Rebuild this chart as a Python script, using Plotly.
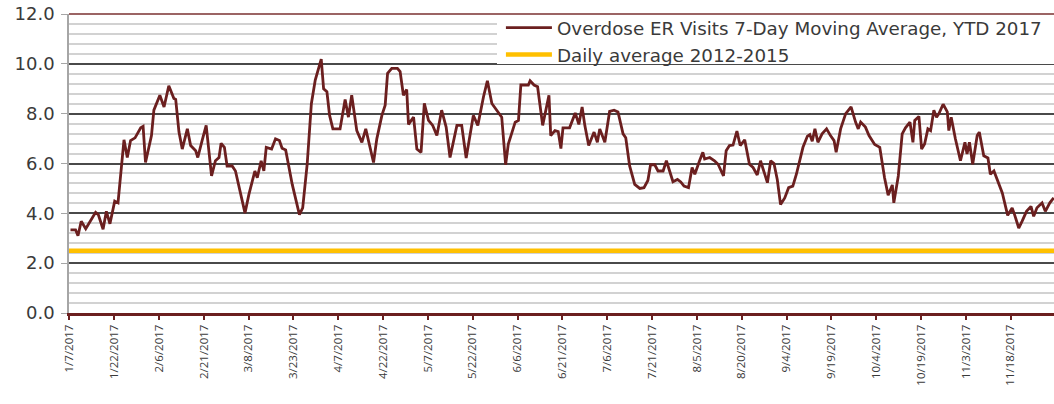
import pandas as pd
import plotly.graph_objects as go

# ---- data (days since 1/7/2017, 7-day moving average) ----
start_date = "2017-01-07"
day_offsets = [
    0.4, 2.1, 2.9, 4.0, 5.5, 7.1, 8.8, 9.7, 11.3, 12.4, 13.6, 15.2, 16.3, 18.3, 19.4, 20.5,
    22.0, 23.9, 24.7, 25.5, 27.5, 28.3, 30.3, 31.7, 33.3, 35.0, 35.6, 36.7, 37.8, 39.5, 40.6,
    42.3, 43.0, 44.5, 45.8, 47.6, 48.9, 50.1, 50.8, 51.9, 52.8, 54.5, 55.6, 58.8, 60.1, 62.1,
    62.9, 64.2, 65.1, 65.9, 67.7, 69.0, 70.3, 71.2, 72.4, 74.6, 77.0, 78.1, 79.6, 81.0, 82.3,
    84.3, 85.1, 86.2, 87.1, 88.2, 90.6, 92.3, 93.4, 94.5, 96.2, 97.9, 99.2, 101.8, 102.9,
    104.6, 105.7, 106.5, 107.9, 109.8, 110.7, 111.8, 112.9, 113.5, 115.2, 116.3, 117.7,
    118.8, 120.2, 121.6, 123.0, 124.6, 126.1, 127.4, 129.7, 131.3, 132.8, 135.2, 136.7,
    138.6, 139.9, 141.4, 143.6, 144.7, 146.0, 146.9, 149.2, 150.3, 151.1, 153.6, 154.2,
    155.5, 156.7, 158.4, 160.5, 161.1, 162.5, 163.6, 164.5, 165.2, 167.4, 169.3, 170.5,
    171.6, 172.5, 173.8, 175.6, 176.7, 177.5, 179.2, 180.8, 182.3, 183.6, 185.3, 186.2,
    187.5, 189.2, 190.9, 192.3, 193.6, 194.5, 195.9, 197.0, 198.7, 199.8, 202.0, 203.5,
    204.6, 205.7, 207.2, 208.4, 209.3, 210.9, 212.0, 212.6, 214.3, 215.9, 217.1, 218.9,
    219.8, 220.9, 222.1, 223.4, 224.5, 226.0, 227.6, 228.8, 230.2, 231.3, 232.4, 233.6,
    234.7, 235.8, 236.9, 238.0, 239.4, 240.7, 242.1, 243.3, 245.5, 247.0, 247.8, 248.6,
    249.5, 250.5, 251.9, 253.4, 254.7, 255.9, 256.6, 258.1, 259.8, 261.6, 263.1, 264.0,
    264.8, 266.4, 267.6, 269.5, 271.2, 272.8, 274.0, 275.4, 275.9, 277.4, 278.7, 279.8,
    281.3, 282.3, 282.9, 284.3, 285.2, 286.2, 287.3, 288.2, 289.3, 290.2, 291.0, 292.4,
    293.8, 294.3, 295.1, 296.5, 298.2, 299.7, 300.4, 301.2, 302.3, 303.8, 304.5, 306.0,
    307.4, 308.2, 309.4, 310.5, 312.2, 314.0, 315.5, 316.3, 317.7, 318.8, 320.3, 321.8,
    322.7, 323.8, 325.5, 326.6, 328.1, 329.4,
]
er_visits_7day = [
    3.34, 3.34, 3.10, 3.68, 3.38, 3.68, 4.04, 3.95, 3.36, 4.08, 3.58, 4.49, 4.42, 6.95, 6.24, 6.92,
    7.03, 7.43, 7.49, 6.04, 7.12, 8.14, 8.74, 8.27, 9.12, 8.61, 8.57, 7.26, 6.58, 7.39, 6.72,
    6.51, 6.24, 6.95, 7.53, 5.50, 6.11, 6.24, 6.81, 6.65, 5.90, 5.90, 5.70, 4.01, 4.76, 5.70,
    5.43, 6.11, 5.70, 6.65, 6.58, 6.99, 6.92, 6.61, 6.54, 5.16, 3.95, 4.22, 5.97, 8.40, 9.35,
    10.19, 9.00, 8.88, 7.93, 7.39, 7.39, 8.57, 7.86, 8.74, 7.32, 6.85, 7.39, 6.04, 6.99,
    7.93, 8.34, 9.62, 9.82, 9.82, 9.69, 8.74, 8.97, 7.57, 7.86, 6.58, 6.45,
    8.41, 7.73, 7.53, 7.12, 8.14, 7.46, 6.24, 7.53, 7.53, 6.22, 7.93, 7.53,
    8.68, 9.32, 8.41, 8.07, 7.86, 5.95, 6.78, 7.66, 7.73, 9.15, 9.15, 9.32,
    9.15, 9.08, 7.53, 8.74, 7.12, 7.32, 7.28, 6.60, 7.43, 7.43, 8.03, 7.57,
    8.27, 7.53, 6.72, 7.26, 6.85, 7.39, 6.85, 8.09, 8.14, 8.07, 7.19, 7.03,
    5.90, 5.16, 5.00, 5.03, 5.32, 5.95, 5.95, 5.70, 5.70, 6.11, 5.27, 5.36,
    5.26, 5.09, 5.03, 5.84, 5.57, 6.11, 6.45, 6.18, 6.24, 6.11, 5.97, 5.50,
    6.51, 6.72, 6.74, 7.30, 6.72, 6.95, 5.97, 5.84, 5.54, 6.11, 5.64, 5.23,
    6.11, 6.00, 5.36, 4.35, 4.62, 5.03, 5.09, 5.57, 6.65, 7.10, 7.16, 6.89,
    7.39, 6.85, 7.19, 7.39, 7.12, 6.92, 6.45, 7.39, 8.00, 8.27, 7.66, 7.39,
    7.66, 7.46, 7.12, 6.76, 6.65, 5.43, 4.73, 5.14, 4.42, 5.50, 7.19, 7.43,
    7.66, 6.85, 7.73, 7.89, 6.58, 6.78, 7.39, 7.32, 8.14, 7.86, 8.00, 8.38,
    8.07, 7.32, 7.86, 6.99, 6.11, 6.85, 6.38, 6.85, 5.97, 7.12, 7.26, 6.31,
    6.22, 5.57, 5.70, 5.36, 4.82, 3.92, 4.22, 3.95, 3.41, 3.68, 4.08, 4.28,
    3.88, 4.22, 4.42, 4.08, 4.42, 4.62,
]
baseline_daily_avg = 2.5          # Daily average 2012-2015
series_names = ["Overdose ER Visits 7-Day Moving Average, YTD 2017", "Daily average 2012-2015"]
y_ticks = [0, 2, 4, 6, 8, 10, 12]
x_window_days = [-0.1, 329.5]     # visible portion of the date axis

# ---- build figure ----
t0 = pd.Timestamp(start_date)
dates = t0 + pd.to_timedelta(day_offsets, unit="D")
x_lo = t0 + pd.to_timedelta(x_window_days[0], unit="D")
x_hi = t0 + pd.to_timedelta(x_window_days[1], unit="D")

DARK_RED = "#6b1f1f"
GOLD = "#ffc000"
WIDE_FONT = "DejaVu Sans"
TICK_FONT = "Open Sans"
TXT = "#3a3a3a"

fig = go.Figure()
fig.add_trace(go.Scatter(
    x=dates, y=er_visits_7day, mode="lines", name=series_names[0],
    line=dict(color=DARK_RED, width=2.8),
))
fig.add_trace(go.Scatter(
    x=[x_lo, x_hi], y=[baseline_daily_avg, baseline_daily_avg], mode="lines",
    name=series_names[1], line=dict(color=GOLD, width=4.5),
))

# white legend box (hides gridlines behind the legend) and thin top frame line
fig.add_shape(type="rect", xref="paper", yref="paper", x0=0.4345, x1=1.0, y0=0.8328, y1=1.0,
              fillcolor="white", line=dict(width=0), layer="above")
fig.add_shape(type="line", xref="paper", yref="paper", x0=0, x1=1, y0=1, y1=1,
              line=dict(color="#7a3030", width=1.5), layer="above")

fig.update_layout(
    width=1054, height=404,
    margin=dict(l=69, r=0, t=14, b=91, autoexpand=False),
    paper_bgcolor="white", plot_bgcolor="white",
    font=dict(family=WIDE_FONT, color=TXT),
    showlegend=True,
    legend=dict(
        x=0.4385, xanchor="left", y=1.016, yanchor="top",
        bgcolor="rgba(0,0,0,0)", bordercolor="rgba(0,0,0,0)", borderwidth=0,
        font=dict(family=WIDE_FONT, size=18.3, color=TXT),
        tracegroupgap=0, itemwidth=46,
    ),
    xaxis=dict(
        type="date", range=[x_lo, x_hi],
        tick0=start_date, dtick=15 * 86400000,
        tickformat="%-m/%-d/%Y", tickangle=-90,
        tickfont=dict(family=TICK_FONT, size=11.5, color=TXT),
        showgrid=False, zeroline=False,
        showline=True, linecolor=DARK_RED, linewidth=3,
        ticks="outside", ticklen=4, tickwidth=2, tickcolor=DARK_RED,
    ),
    yaxis=dict(
        range=[0, 12], tickvals=y_ticks, tickformat=".1f",
        tickfont=dict(family=WIDE_FONT, size=18, color=TXT),
        showgrid=True, gridcolor="#4a4a4a", gridwidth=1.5,
        minor=dict(dtick=0.4, tick0=0, showgrid=True, gridcolor="#d2d2d2", gridwidth=1.5),
        zeroline=False,
        showline=True, linecolor="#a6a6a6", linewidth=1.5,
        ticks="outside", ticklen=6, tickcolor="#a6a6a6", tickwidth=1,
        ticklabelstandoff=3,
    ),
)

fig.write_html("out.html", config={"displayModeBar": False},
               post_script="document.body.style.margin='0';")
